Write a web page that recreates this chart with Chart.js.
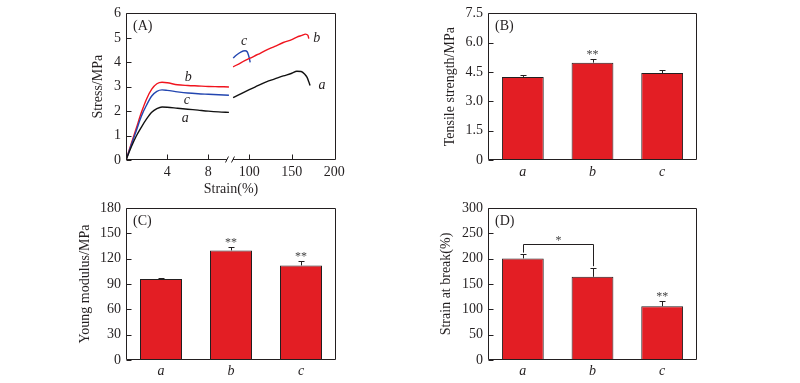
<!DOCTYPE html>
<html><head><meta charset="utf-8">
<script src="https://cdn.jsdelivr.net/npm/chart.js@4.4.0/dist/chart.umd.min.js"></script>
<style>
html,body{margin:0;padding:0;background:#fff;width:800px;height:383px;overflow:hidden}
canvas{position:absolute;left:0;top:0}
</style></head><body>
<canvas id="cA" width="800" height="383"></canvas>
<canvas id="cB" width="800" height="383"></canvas>
<canvas id="cC" width="800" height="383"></canvas>
<canvas id="cD" width="800" height="383"></canvas>
<script>
const FONT = "'Liberation Serif','Times New Roman',serif";
const INK = '#231f20';
const RED = '#e31e24';

// ---------- Panel A: stress-strain curves (broken strain axis) ----------
const strainLow   = [0,0.5,1,1.5,2,2.5,3,3.5,4,5,6,7,8,9,10];
const stressLowA  = [0,0.52,0.98,1.35,1.68,1.95,2.1,2.17,2.16,2.12,2.08,2.04,2.0,1.97,1.95];
const stressLowB  = [0,0.66,1.3,1.95,2.5,2.9,3.12,3.18,3.16,3.08,3.05,3.03,3.01,3.0,2.99];
const stressLowC  = [0,0.6,1.2,1.8,2.25,2.62,2.81,2.87,2.85,2.79,2.74,2.71,2.69,2.67,2.65];
const strainHighA = [81,90,100,110,120,130,140,150,156,161,165,168,170,171.5];
const stressHighA = [2.55,2.71,2.88,3.04,3.2,3.32,3.44,3.55,3.63,3.62,3.52,3.38,3.2,3.05];
const strainHighB = [81,90,101,110,120,130,140,150,156,162,166,169,170];
const stressHighB = [3.81,3.98,4.17,4.32,4.5,4.65,4.81,4.93,5.03,5.1,5.15,5.1,4.97];
const strainHighC = [81,85,90,95,97.5,99,100.5,101];
const stressHighC = [4.17,4.3,4.42,4.47,4.43,4.3,4.1,4.0];
const lowTicks = [4,8];         const lowTickLabels = ['4','8'];
const highTicks = [100,150,200]; const highTickLabels = ['100','150','200'];
const stressTicks = [0,1,2,3,4,5,6]; const stressTickLabels = ['0','1','2','3','4','5','6'];

// ---------- Bar panels ----------
const catLabels = ['a','b','c'];
const tensile = [4.25,4.98,4.45];      const tensileErr = [0.12,0.18,0.17];
const modulus = [95.8,129.8,112.0];    const modulusErr = [1.5,4.0,5.5];
const breakStrain = [200.5,164.2,106.2]; const breakErr = [8.5,17,10.5];
const starsB = ['','**',''];
const starsC = ['','**','**'];
const starsD = ['','','**'];
const tensileTicks = [0,1.5,3,4.5,6,7.5];  const tensileTickLabels = ['0','1.5','3.0','4.5','6.0','7.5'];
const modulusTicks = [0,30,60,90,120,150,180]; const modulusTickLabels = ['0','30','60','90','120','150','180'];
const breakTicks = [0,50,100,150,200,250,300]; const breakTickLabels = ['0','50','100','150','200','250','300'];

const pairs = (xs, ys) => xs.map((x,i)=>({x, y:ys[i]}));
const f14 = {family:FONT, size:14};
const f14i = {family:FONT, size:14, style:'italic'};

function drawFrame(chart, xIds){
  const {ctx, chartArea:ca} = chart;
  const L = Math.round(ca.left)+0.5, R = Math.round(ca.right)-0.5, T = Math.round(ca.top)+0.5, B = Math.round(ca.bottom)-0.5;
  ctx.save(); ctx.strokeStyle = INK; ctx.lineWidth = 1;
  ctx.beginPath();
  ctx.rect(L, T, R-L, B-T);
  const ys = chart.scales.y;
  ys.ticks.forEach(t=>{ const p = Math.round(ys.getPixelForValue(t.value))+0.5; ctx.moveTo(L,p); ctx.lineTo(L+5,p); });
  xIds.forEach(id=>{ const s = chart.scales[id]; s.ticks.forEach(t=>{ const p = Math.round(s.getPixelForValue(t.value))+0.5; if (p>L+2 && p<R-2){ ctx.moveTo(p,B); ctx.lineTo(p,B-5);} }); });
  ctx.stroke(); ctx.restore();
}
function panelLetter(chart, txt){
  const {ctx, chartArea:ca} = chart;
  ctx.save(); ctx.font = "14px "+FONT; ctx.fillStyle = INK; ctx.textAlign='left'; ctx.textBaseline='middle';
  ctx.fillText(txt, ca.left+7, ca.top+13); ctx.restore();
}

// Panel A
const curveLabels = [
  {axis:'x', x:6.05, y:3.38, t:'b'}, {axis:'x', x:5.9, y:2.45, t:'c'}, {axis:'x', x:5.75, y:1.7, t:'a'},
  {axis:'x2', x:94, y:4.86, t:'c'}, {axis:'x2', x:179.5, y:4.97, t:'b'}, {axis:'x2', x:185.5, y:3.05, t:'a'}
];
const breakAt = 10.1;
const lineDs = (data, color, axis) => ({data, borderColor:color, borderWidth:1.4, pointRadius:0, fill:false, cubicInterpolationMode:'monotone', xAxisID:axis});
new Chart(document.getElementById('cA'), {
  type:'line',
  data:{datasets:[
    lineDs(pairs(strainLow, stressLowA), '#111111', 'x'),
    lineDs(pairs(strainLow, stressLowC), '#2346b0', 'x'),
    lineDs(pairs(strainLow, stressLowB), '#f0141e', 'x'),
    lineDs(pairs(strainHighA, stressHighA), '#111111', 'x2'),
    lineDs(pairs(strainHighB, stressHighB), '#f0141e', 'x2'),
    lineDs(pairs(strainHighC, stressHighC), '#2346b0', 'x2')
  ]},
  options:{responsive:false, animation:false, events:[],
    layout:{padding:{left:90, right:464, top:9, bottom:185}},
    plugins:{legend:{display:false}, tooltip:{enabled:false}},
    scales:{
      x2:{type:'linear', position:'bottom', weight:-1, min:-45, max:202,
        afterBuildTicks:s=>{s.ticks = highTicks.map(v=>({value:v}));},
        ticks:{autoSkip:false, maxRotation:0, font:f14, color:INK, padding:4, callback:(v,i)=>highTickLabels[i]},
        grid:{display:false, drawTicks:false}, border:{display:false},
        afterFit:s=>{s.height = 0;}},
      x:{type:'linear', position:'bottom', weight:0, min:0, max:20.4,
        afterBuildTicks:s=>{s.ticks = lowTicks.map(v=>({value:v}));},
        ticks:{autoSkip:false, maxRotation:0, font:f14, color:INK, padding:4, callback:(v,i)=>lowTickLabels[i]},
        grid:{display:false, drawTicks:false}, border:{display:false},
        title:{display:true, text:'Strain(%)', font:f14, color:INK, padding:0},
        afterFit:s=>{s.height = 38;}},
      y:{min:0, max:6,
        afterBuildTicks:s=>{s.ticks = stressTicks.map(v=>({value:v}));},
        ticks:{autoSkip:false, font:f14, color:INK, padding:5, callback:(v,i)=>stressTickLabels[i]},
        grid:{display:false, drawTicks:false}, border:{display:false},
        title:{display:true, text:'Stress/MPa', font:f14, color:INK, padding:0},
        afterFit:s=>{s.width = 36;}}
    }},
  plugins:[{id:'decoA',
    afterLayout(chart){
      // second strain axis shares the label band of the first one
      const a = chart.scales.x, b = chart.scales.x2;
      b.top = a.top; b.bottom = a.bottom; b.height = a.bottom - a.top;
    },
    afterDatasetsDraw(chart){
    drawFrame(chart, ['x','x2']);
    panelLetter(chart, '(A)');
    const {ctx} = chart; const y = chart.scales.y;
    ctx.save(); ctx.font = "italic 14px "+FONT; ctx.fillStyle = INK; ctx.textAlign='center'; ctx.textBaseline='middle';
    curveLabels.forEach(l=>{ ctx.fillText(l.t, chart.scales[l.axis].getPixelForValue(l.x), y.getPixelForValue(l.y)); });
    // axis break mark
    const bx = chart.scales.x.getPixelForValue(breakAt), by = chart.chartArea.bottom - 0.5;
    ctx.fillStyle = '#fff'; ctx.fillRect(bx-3, by-1.5, 6, 3);
    ctx.strokeStyle = INK; ctx.lineWidth = 1; ctx.beginPath();
    ctx.moveTo(bx-4.5, by+3); ctx.lineTo(bx-1.5, by-3);
    ctx.moveTo(bx+1.5, by+3); ctx.lineTo(bx+4.5, by-3);
    ctx.stroke(); ctx.restore();
  }}]
});

// Bar panels
function makeBar(id, o){
  new Chart(document.getElementById(id), {
    type:'bar',
    data:{labels:catLabels, datasets:[{data:o.values, backgroundColor:RED, borderColor:INK, borderWidth:1, borderSkipped:false, categoryPercentage:1, barPercentage:0.6}]},
    options:{responsive:false, animation:false, events:[],
      layout:{padding:o.pad},
      plugins:{legend:{display:false}, tooltip:{enabled:false}},
      scales:{
        x:{grid:{display:false, drawTicks:false}, border:{display:false},
          ticks:{font:f14i, color:INK, padding:o.xpad}, afterFit:s=>{s.height = o.xh;}},
        y:{min:o.tickVals[0], max:o.tickVals[o.tickVals.length-1],
          afterBuildTicks:s=>{s.ticks = o.tickVals.map(v=>({value:v}));},
          ticks:{autoSkip:false, font:f14, color:INK, padding:5, callback:(v,i)=>o.tickLabels[i]},
          grid:{display:false, drawTicks:false}, border:{display:false},
          title:{display:true, text:o.title, font:f14, color:INK, padding:0},
          afterFit:s=>{s.width = o.yw;}}
      }},
    plugins:[{id:'deco'+id, afterDatasetsDraw(chart){
      drawFrame(chart, []);
      panelLetter(chart, o.letter);
      const {ctx} = chart; const y = chart.scales.y; const bars = chart.getDatasetMeta(0).data;
      ctx.save(); ctx.strokeStyle = INK; ctx.lineWidth = 1; ctx.beginPath();
      bars.forEach((b,i)=>{
        const x = Math.round(b.x)+0.5, y0 = y.getPixelForValue(o.values[i]), y1 = Math.round(y.getPixelForValue(o.values[i]+o.errs[i]))+0.5;
        ctx.moveTo(x, y0); ctx.lineTo(x, y1); ctx.moveTo(x-3, y1); ctx.lineTo(x+3, y1);
      });
      ctx.stroke();
      ctx.font = "12px "+FONT; ctx.fillStyle = '#444'; ctx.textAlign='center'; ctx.textBaseline='middle';
      bars.forEach((b,i)=>{ if (o.stars[i]) ctx.fillText(o.stars[i], b.x, y.getPixelForValue(o.values[i]+o.errs[i]) - 4); });
      if (o.bracket){
        const br = o.bracket; const xa = Math.round(bars[br.from].x)+0.5, xb = Math.round(bars[br.to].x)+0.5;
        const top = Math.round(y.getPixelForValue(br.level))+0.5;
        const ya = y.getPixelForValue(o.values[br.from]+o.errs[br.from]) - 1.5;
        const yb = y.getPixelForValue(o.values[br.to]+o.errs[br.to]) - 2;
        ctx.beginPath(); ctx.moveTo(xa, ya); ctx.lineTo(xa, top); ctx.lineTo(xb, top); ctx.lineTo(xb, yb); ctx.stroke();
        ctx.fillText(br.mark, (xa+xb)/2, top - 4);
      }
      ctx.restore();
    }}]
  });
}
makeBar('cB', {values:tensile, errs:tensileErr, stars:starsB, tickVals:tensileTicks, tickLabels:tensileTickLabels,
  title:'Tensile strength/MPa', letter:'(B)', pad:{left:442, right:103, top:8, bottom:198}, yw:46, xh:25, xpad:4});
makeBar('cC', {values:modulus, errs:modulusErr, stars:starsC, tickVals:modulusTicks, tickLabels:modulusTickLabels,
  title:'Young modulus/MPa', letter:'(C)', pad:{left:77, right:464, top:208, bottom:0}, yw:49, xh:23, xpad:3});
makeBar('cD', {values:breakStrain, errs:breakErr, stars:starsD, tickVals:breakTicks, tickLabels:breakTickLabels,
  title:'Strain at break(%)', letter:'(D)', pad:{left:438, right:103, top:208, bottom:0}, yw:50, xh:23, xpad:3,
  bracket:{from:0, to:1, level:228, mark:'*'}});
</script>
</body></html>
